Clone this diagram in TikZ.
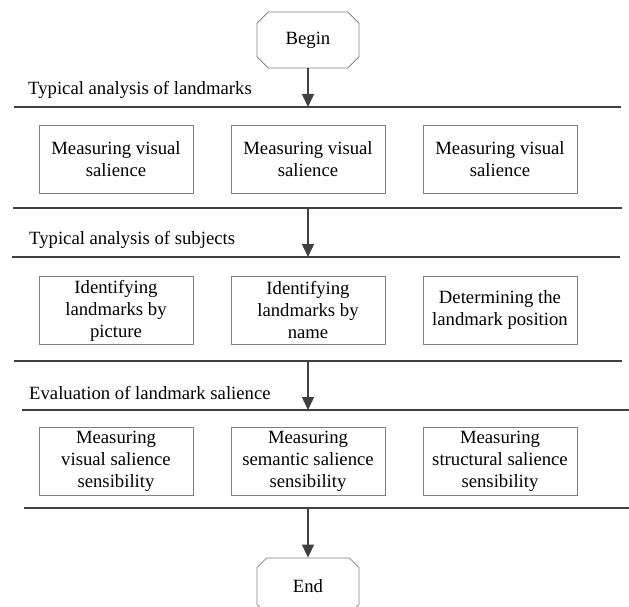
\documentclass[tikz,border=0pt]{standalone}
\usepackage{fontspec}
\setmainfont{Liberation Serif}
\usetikzlibrary{arrows.meta,shapes.misc}
\begin{document}
\begin{tikzpicture}[
    x = 1pt, y = -1pt,
    font = \fontsize{18.7}{22}\selectfont,
    task/.style = {draw = black!50, line width = 0.8pt, minimum width = 154pt,
                   minimum height = 68pt, align = center, inner sep = 0pt},
    terminal/.style = {chamfered rectangle, chamfered rectangle xsep = 11pt,
                       draw = black!50, line width = 0.8pt, minimum width = 102pt,
                       minimum height = 56pt, inner sep = 0pt},
    stage/.style = {draw = black!75, line width = 1.5pt},
    flow/.style = {draw = black!75, line width = 1.5pt,
                   -{Triangle[width = 12pt, length = 13pt]}},
    caption/.style = {anchor = base west, inner sep = 0pt}
  ]
  \useasboundingbox (0,0) rectangle (629,607);
  % terminals
  \node[terminal] (start) at (308, 40)  {Begin};
  \node[terminal] (stop)  at (308, 586) {End};
  % the stage lines
  \coordinate (l1w) at (14, 107);  \coordinate (l1e) at (621, 107);
  \coordinate (l2w) at (13, 208);  \coordinate (l2e) at (622, 208);
  \coordinate (l3w) at (12, 257);  \coordinate (l3e) at (620, 257);
  \coordinate (l4w) at (14, 361);  \coordinate (l4e) at (622, 361);
  \coordinate (l5w) at (22, 410);  \coordinate (l5e) at (629, 410);
  \coordinate (l6w) at (24, 508);  \coordinate (l6e) at (629, 508);
  \foreach \i in {1,...,6}
    \draw[stage] (l\i w) -- (l\i e);
  % stage captions
  \node[caption] (cap1) at (28, 95)  {Typical analysis of landmarks};
  \node[caption] (cap2) at (29, 244) {Typical analysis of subjects};
  \node[caption] (cap3) at (29, 399) {Evaluation of landmark salience};
  % landmark analysis
  \node[task] (v1) at (116, 159) {Measuring visual\\salience};
  \node[task] (v2) at (308, 159) {Measuring visual\\salience};
  \node[task] (v3) at (500, 159) {Measuring visual\\salience};
  % subject analysis
  \node[task] (s1) at (116, 310.5) {Identifying\\landmarks by\\picture};
  \node[task] (s2) at (308, 310.5) {Identifying\\landmarks by\\name};
  \node[task] (s3) at (500, 310.5) {Determining the\\landmark position};
  % salience evaluation
  \node[task] (e1) at (116, 461) {Measuring\\visual salience\\sensibility};
  \node[task] (e2) at (308, 461) {Measuring\\semantic salience\\sensibility};
  \node[task] (e3) at (500, 461) {Measuring\\structural salience\\sensibility};
  % the flow
  \draw[flow] (start) -- (start |- l1w);
  \draw[flow] (l2w -| start) -- (l3w -| start);
  \draw[flow] (l4w -| start) -- (l5w -| start);
  \draw[flow] (l6w -| stop) -- (stop);
\end{tikzpicture}
\end{document}
